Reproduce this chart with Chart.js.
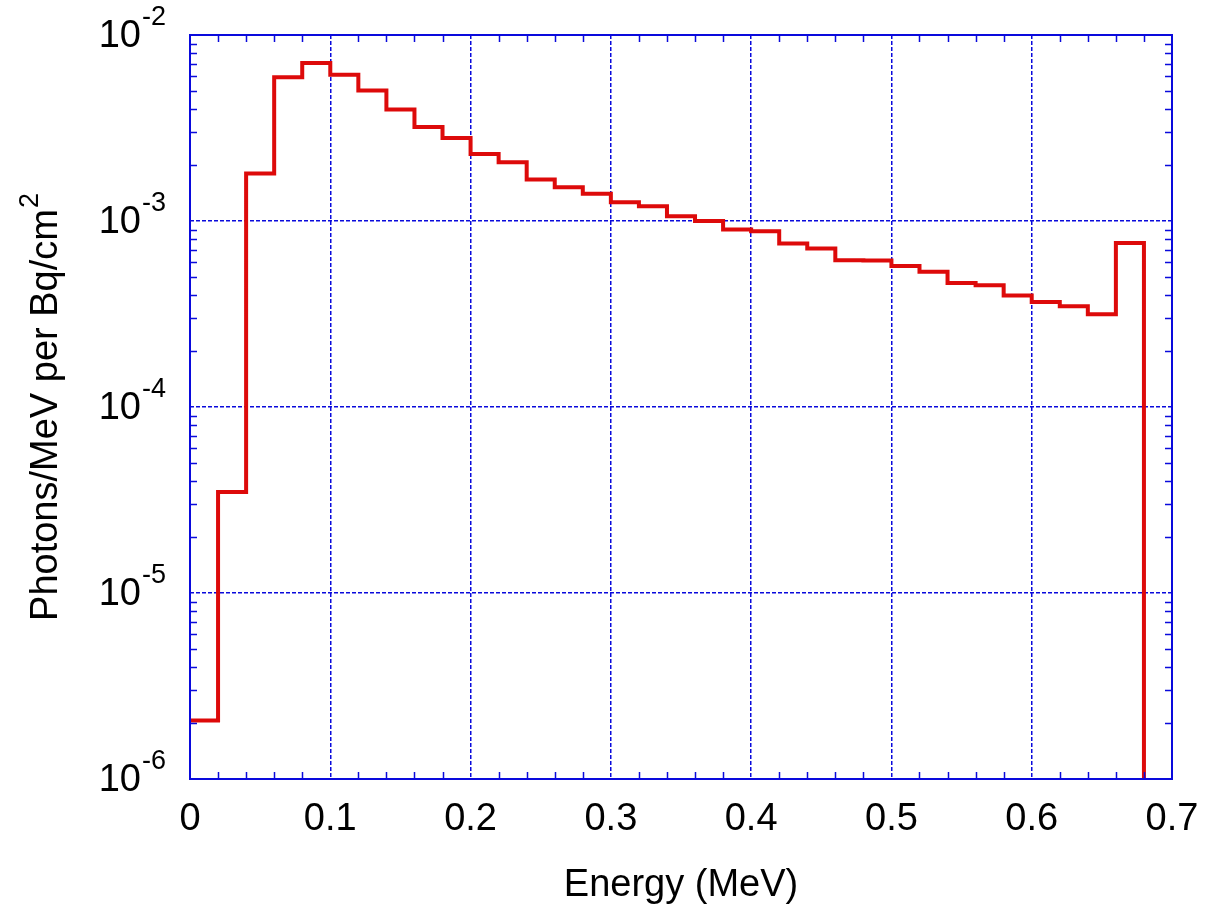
<!DOCTYPE html>
<html>
<head>
<meta charset="utf-8">
<script src="https://cdn.jsdelivr.net/npm/chart.js@4.4.1/dist/chart.umd.min.js"></script>
<style>
  html, body { margin: 0; padding: 0; background: #fff; }
</style>
</head>
<body>
<canvas id="chart" width="1205" height="912"></canvas>
<script>
// bin edges (MeV) and photon fluence per bin
const binEdges = [0, 0.02, 0.04, 0.06, 0.08, 0.10, 0.12, 0.14, 0.16, 0.18,
  0.20, 0.22, 0.24, 0.26, 0.28, 0.30, 0.32, 0.34, 0.36, 0.38,
  0.40, 0.42, 0.44, 0.46, 0.48, 0.50, 0.52, 0.54, 0.56, 0.58,
  0.60, 0.62, 0.64, 0.66, 0.68]
const binValues = [2.06e-6, 3.49e-5, 1.80e-3, 5.93e-3, 7.06e-3, 6.11e-3, 5.03e-3, 3.98e-3, 3.20e-3, 2.79e-3,
  2.29e-3, 2.07e-3, 1.67e-3, 1.52e-3, 1.40e-3, 1.26e-3, 1.20e-3, 1.06e-3, 1.00e-3, 9.01e-4,
  8.82e-4, 7.58e-4, 7.12e-4, 6.16e-4, 6.14e-4, 5.72e-4, 5.34e-4, 4.64e-4, 4.52e-4, 3.98e-4,
  3.67e-4, 3.48e-4, 3.15e-4, 7.61e-4]
const xTicks = [0, 0.1, 0.2, 0.3, 0.4, 0.5, 0.6, 0.7]
const yExponents = [-6, -5, -4, -3, -2]

const Y_MIN = 1e-6
const Y_MAX = 1e-2
const BLUE = '#0a0adc'
const RED = '#dd0a0a'
const FONT = 'Arial, "Liberation Sans", sans-serif'

// step outline: each bin's value starts at its left edge, the last bin closes down to the axis
const points = binValues.map((v, i) => ({ x: binEdges[i], y: v }))
const lastEdge = binEdges[binEdges.length - 1]
points.push({ x: lastEdge, y: binValues[binValues.length - 1] })
points.push({ x: lastEdge, y: Y_MIN })

const framePlugin = {
  id: 'frame',
  afterDraw(chart) {
    const { ctx, chartArea: a, scales } = chart
    const xs = scales.x, ys = scales.y
    const tick = 7
    ctx.save()
    ctx.strokeStyle = BLUE
    ctx.lineWidth = 1.5

    // minor x ticks every 0.02, top and bottom, pointing inward
    ctx.beginPath()
    for (let k = 1; k < 35; k++) {
      if (k % 5 === 0) continue
      const px = Math.round(xs.getPixelForValue(k * 0.02)) + 0.5
      ctx.moveTo(px, a.bottom); ctx.lineTo(px, a.bottom - tick)
      ctx.moveTo(px, a.top); ctx.lineTo(px, a.top + tick)
    }
    // log minor y ticks, left and right
    for (let e = -6; e < -2; e++) {
      for (let m = 2; m <= 9; m++) {
        const py = Math.round(ys.getPixelForValue(m * Math.pow(10, e))) + 0.5
        ctx.moveTo(a.left, py); ctx.lineTo(a.left + tick, py)
        ctx.moveTo(a.right, py); ctx.lineTo(a.right - tick, py)
      }
    }
    ctx.stroke()

    // frame
    ctx.lineWidth = 2
    ctx.strokeRect(a.left, a.top, a.right - a.left, a.bottom - a.top)

    // y tick labels as 10 with a raised exponent
    ctx.fillStyle = '#000'
    ctx.textBaseline = 'middle'
    yExponents.forEach(e => {
      const py = ys.getPixelForValue(Math.pow(10, e))
      const sup = String(e)
      ctx.font = '27px ' + FONT
      const supW = ctx.measureText(sup).width
      const right = 166
      ctx.textAlign = 'left'
      ctx.fillText(sup, right - supW, py - 17)
      ctx.font = '38px ' + FONT
      ctx.textAlign = 'right'
      ctx.fillText('10', right - supW - 1, py + 2)
    })

    // y axis title with superscript 2
    const main = 'Photons/MeV per Bq/cm'
    ctx.font = '38px ' + FONT
    const mainW = ctx.measureText(main).width
    ctx.font = '27px ' + FONT
    const supW = ctx.measureText('2').width
    const total = mainW + supW + 1
    ctx.translate(45, (a.top + a.bottom) / 2)
    ctx.rotate(-Math.PI / 2)
    ctx.textAlign = 'left'
    ctx.textBaseline = 'middle'
    ctx.font = '38px ' + FONT
    ctx.fillText(main, -total / 2, 2)
    ctx.font = '27px ' + FONT
    ctx.fillText('2', -total / 2 + mainW + 1, -14)
    ctx.restore()
  }
}

new Chart(document.getElementById('chart'), {
  type: 'line',
  data: {
    datasets: [{
      data: points,
      stepped: 'before',
      borderColor: RED,
      borderWidth: 4,
      pointRadius: 0,
      fill: false
    }]
  },
  options: {
    responsive: false,
    devicePixelRatio: 1,
    animation: false,
    layout: { padding: { top: 35, right: 33, left: 0, bottom: 0 } },
    plugins: {
      legend: { display: false },
      tooltip: { enabled: false }
    },
    scales: {
      x: {
        type: 'linear',
        min: 0,
        max: 0.7,
        afterBuildTicks: scale => { scale.ticks = xTicks.map(v => ({ value: v })) },
        afterFit: scale => {
          scale.height = 133
          scale.paddingLeft = 0
          scale.paddingRight = 0
        },
        ticks: {
          color: '#000',
          font: { family: FONT, size: 38 },
          padding: 18,
          maxRotation: 0,
          callback: v => (v === 0 ? '0' : v.toFixed(1))
        },
        grid: { color: BLUE, lineWidth: 1.5, drawTicks: false },
        border: { display: false, dash: [4, 2] },
        title: {
          display: true,
          text: 'Energy (MeV)',
          color: '#000',
          font: { family: FONT, size: 38 },
          padding: { top: 0, bottom: 4 }
        }
      },
      y: {
        type: 'logarithmic',
        min: Y_MIN,
        max: Y_MAX,
        afterBuildTicks: scale => { scale.ticks = yExponents.map(e => ({ value: Math.pow(10, e) })) },
        afterFit: scale => {
          scale.width = 190
          scale.paddingTop = 0
          scale.paddingBottom = 0
        },
        ticks: { display: false },
        grid: { color: BLUE, lineWidth: 1.5, drawTicks: false },
        border: { display: false, dash: [4, 2] },
        title: { display: false }
      }
    }
  },
  plugins: [framePlugin]
})
</script>
</body>
</html>
